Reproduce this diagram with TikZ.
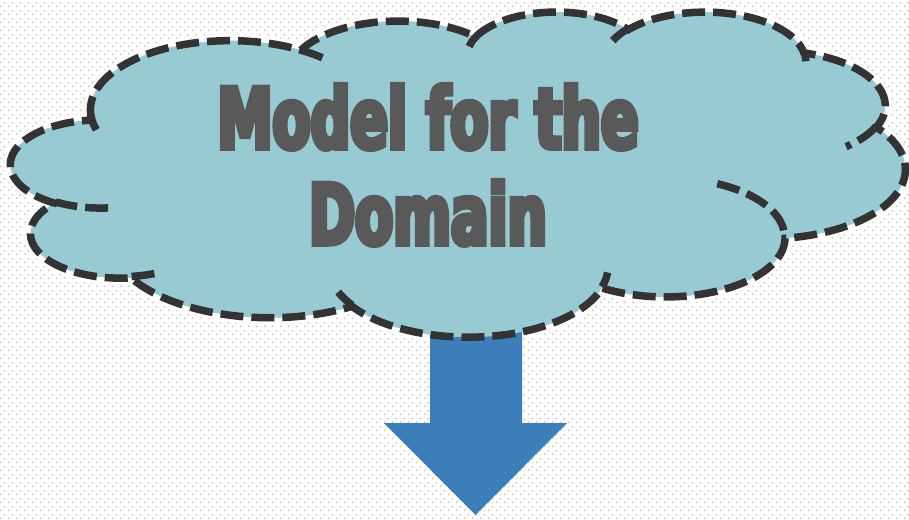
\documentclass[tikz,border=0pt]{standalone}
\usepackage{fontspec}
\usetikzlibrary{patterns.meta}

\newfontfamily\titlefont[FakeStretch=0.66,FakeBold=6]{DejaVu Sans Bold}

\definecolor{cloudblue}{HTML}{98CAD4}
\definecolor{cloudline}{HTML}{333333}
\definecolor{titlegray}{HTML}{595959}
\definecolor{arrowblue}{HTML}{3B7EBA}
\definecolor{dotgray}{HTML}{CFCFCF}

% dotted background tile
\tikzdeclarepattern{
  name=diadots,
  type=colored,
  bounding box={(0pt,0pt) and (8pt,8pt)},
  tile size={(8pt,8pt)},
  code={
    \fill[dotgray] (1pt,1pt) rectangle (3pt,3pt);
    \fill[dotgray] (5pt,5pt) rectangle (7pt,7pt);
  }
}

% outer border of the cloud, in a 432 x 432 frame
\newcommand\cloudpath{(39.00,143.70)
  arc[lobe={67.53}{91.90}{-190.48748}{123.78053}]
  arc[lobe={53.33}{72.67}{-144.10238}{89.94523}]
  arc[lobe={43.65}{59.45}{-145.80792}{99.72302}]
  arc[lobe={48.57}{65.95}{-130.98607}{117.24173}]
  arc[lobe={53.33}{72.73}{-78.70888}{109.02692}]
  arc[lobe={67.75}{92.20}{-46.26725}{130.26900}]
  arc[lobe={57.85}{78.67}{0.62502}{114.03333}]
  arc[lobe={67.52}{92.15}{22.45160}{115.17255}]
  arc[lobe={77.20}{105.43}{66.24263}{75.71102}]
  arc[lobe={43.60}{59.18}{-274.94208}{146.73557}]
  arc[lobe={43.45}{59.45}{-246.82850}{152.51885}]
  -- cycle}

\begin{document}
\begin{tikzpicture}[x=1pt, y=-1pt,
cloudframe/.style={shift={(11,11)}, x=2.06944pt, y=-0.75231pt},
lobe/.style n args={4}{x radius=#1, y radius=#2,
  start angle={atan2(#1*sin(#3),#2*cos(#3))},
  delta angle={mod(atan2(#1*sin(#3+#4),#2*cos(#3+#4))-atan2(#1*sin(#3),#2*cos(#3))+720,360)}},
halo/.style={draw=white, line width=13pt, line join=round},
cloudbody/.style={fill=cloudblue},
dashline/.style={draw=cloudline, line width=7.5pt, dash pattern=on 23pt off 8pt},
blockarrow/.style={fill=arrowblue},
titletext/.style={font=\titlefont\fontsize{84}{96}\selectfont, text=titlegray, align=center},
]
%Background
\useasboundingbox (0,0) rectangle (909,519);
\fill[white] (0,0) rectangle (909,519);
\fill[pattern=diadots] (0,0) rectangle (909,519);

%Cloud
\path[cloudframe, halo] \cloudpath;
\fill[blockarrow] (430,300) -- (522,300) -- (522,423) -- (567,423) -- (475.5,515) -- (384,423) -- (430,423) -- cycle;
\path[cloudframe, cloudbody, postaction={dashline}] \cloudpath;

%Inner strokes
\path[cloudframe, dashline]
  (46.93,261.77) arc[lobe={43.45}{59.45}{86.74200}{26.42950}]
  (69.28,348.99) arc[lobe={43.60}{59.18}{73.61047}{11.44747}]
  (164.78,390.90) arc[lobe={67.52}{92.15}{137.62415}{14.08110}]
  (288.27,347.51) arc[lobe={67.52}{92.15}{6.45327}{15.99835}]
  (341.29,229.54) arc[lobe={57.85}{78.67}{-70.29235}{70.91737}]
  (417.98,153.54) arc[lobe={53.33}{72.73}{30.31803}{27.75150}]
  (383.24,54.26) arc[lobe={48.57}{65.95}{-13.74433}{14.85890}]
  (290.78,39.52) arc[lobe={48.57}{65.95}{-149.18145}{18.19537}]
  (221.41,47.20) arc[lobe={43.65}{59.45}{-163.49427}{17.68635}]
  (140.00,51.92) arc[lobe={67.53}{91.90}{-66.70695}{12.31935}]
  (41.27,157.89) arc[lobe={67.53}{91.90}{157.65435}{11.85817}];

%Nodes
\node[titletext] (title) at (428,165) {Model for the\\Domain};
\end{tikzpicture}
\end{document}
